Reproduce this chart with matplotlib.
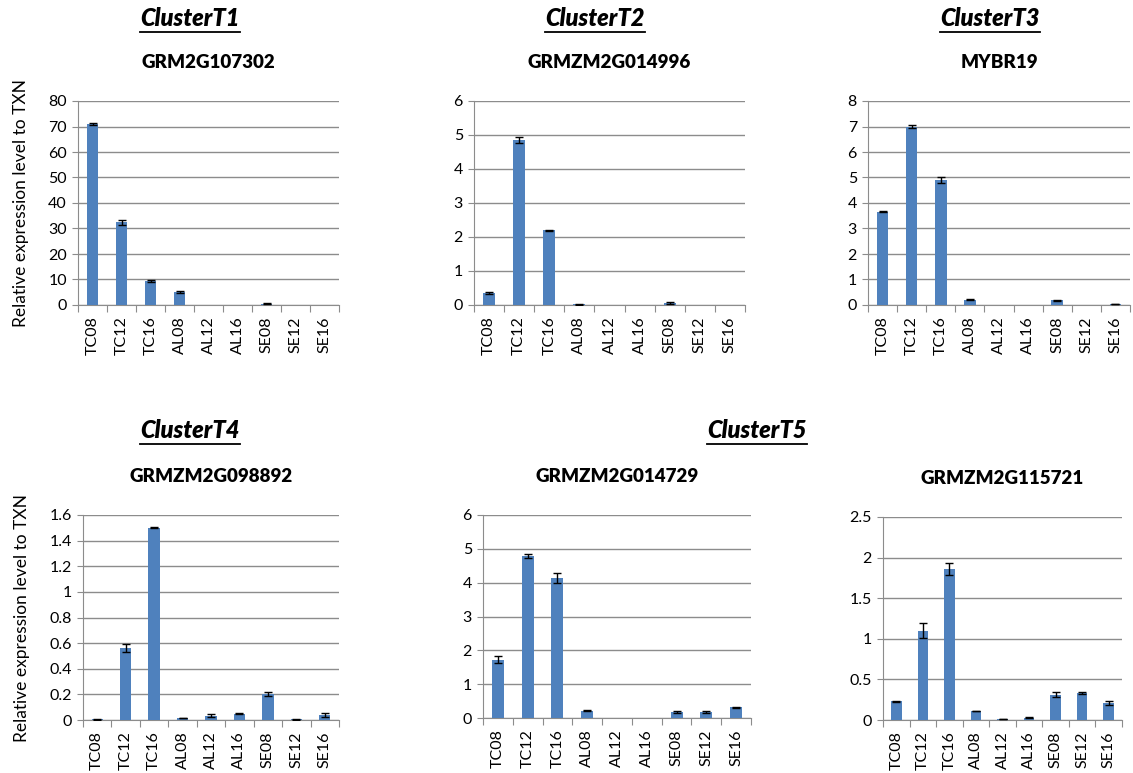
import numpy as np
import matplotlib.pyplot as plt
from matplotlib.lines import Line2D

plt.rcParams['font.family'] = ['Lato', 'DejaVu Sans']

samples = ["TC08", "TC12", "TC16", "AL08", "AL12", "AL16", "SE08", "SE12", "SE16"]

genes = ["GRM2G107302", "GRMZM2G014996", "MYBR19",
         "GRMZM2G098892", "GRMZM2G014729", "GRMZM2G115721"]

# expression values
grm2g107302 = [71.0, 32.5, 9.5, 5.2, 0, 0, 0.4, 0, 0]
grm2g107302_err = [0.3, 1.0, 0.4, 0.4, 0, 0, 0.2, 0, 0]
grmzm2g014996 = [0.35, 4.85, 2.2, 0.02, 0, 0, 0.06, 0, 0]
grmzm2g014996_err = [0.03, 0.08, 0.02, 0.01, 0, 0, 0.02, 0, 0]
mybr19 = [3.65, 7.0, 4.9, 0.2, 0, 0, 0.18, 0, 0.04]
mybr19_err = [0.02, 0.05, 0.1, 0.02, 0, 0, 0.03, 0, 0.01]
grmzm2g098892 = [0.005, 0.56, 1.5, 0.015, 0.035, 0.05, 0.2, 0.005, 0.04]
grmzm2g098892_err = [0.002, 0.03, 0.003, 0.003, 0.01, 0.005, 0.015, 0.002, 0.015]
grmzm2g014729 = [1.72, 4.78, 4.13, 0.22, 0, 0, 0.17, 0.17, 0.32]
grmzm2g014729_err = [0.1, 0.06, 0.15, 0.01, 0, 0, 0.03, 0.03, 0.01]
grmzm2g115721 = [0.23, 1.1, 1.86, 0.11, 0.01, 0.03, 0.31, 0.33, 0.21]
grmzm2g115721_err = [0.005, 0.09, 0.07, 0.005, 0.003, 0.005, 0.03, 0.01, 0.03]

values = [grm2g107302, grmzm2g014996, mybr19, grmzm2g098892, grmzm2g014729, grmzm2g115721]
errors = [grm2g107302_err, grmzm2g014996_err, mybr19_err,
          grmzm2g098892_err, grmzm2g014729_err, grmzm2g115721_err]
ymax = [80, 6, 8, 1.6, 6, 2.5]
ystep = [10, 1, 1, 0.2, 1, 0.5]

clusters = ["ClusterT1", "ClusterT2", "ClusterT3", "ClusterT4", "ClusterT5"]

W, H = 1133, 773
fig = plt.figure(figsize=(W / 100, H / 100), dpi=100)

# axes boxes in pixels: left, top, right, bottom
boxes = [(78, 101, 339, 305), (474, 101, 745, 305), (868, 101, 1130, 305),
         (83, 515, 339, 720), (483, 515, 751, 718), (883, 517, 1122, 720)]

bar_color = "#4F81BD"
grid_color = "#8C8C8C"

for i, (l, t, r, b) in enumerate(boxes):
    ax = fig.add_axes([l / W, 1 - b / H, (r - l) / W, (b - t) / H])
    x = np.arange(len(samples))
    v = np.array(values[i], dtype=float)
    e = np.array(errors[i], dtype=float)
    ax.bar(x, v, width=0.4, color=bar_color, zorder=3)
    has = v > 0
    ax.errorbar(x[has], v[has], yerr=e[has], fmt="none", ecolor="black",
                elinewidth=1, capsize=3, capthick=1, zorder=4)
    ax.set_xlim(-0.5, len(samples) - 0.5)
    ax.set_ylim(0, ymax[i])
    ticks = np.arange(0, ymax[i] + ystep[i] / 2, ystep[i])
    ax.set_yticks(ticks)
    ax.set_yticklabels([f"{t_:g}" for t_ in ticks], fontsize=11.5)
    ax.yaxis.grid(True, color=grid_color, linewidth=1, zorder=0)
    ax.set_xticks(np.arange(-0.5, len(samples), 1))
    ax.set_xticklabels([])
    ax.set_xticks(x, minor=True)
    ax.set_xticklabels(samples, minor=True, rotation=90, fontsize=11.5)
    ax.tick_params(axis="x", which="minor", length=0, pad=8)
    ax.tick_params(axis="x", which="major", length=5, color=grid_color, direction="out")
    ax.tick_params(axis="y", length=4, color=grid_color, pad=4)
    for s in ["top", "right"]:
        ax.spines[s].set_visible(False)
    for s in ["left", "bottom"]:
        ax.spines[s].set_color(grid_color)
    ax.set_title(genes[i], fontsize=13.5, fontweight="heavy", pad=24)
    if i in (0, 3):
        ax.set_ylabel("Relative expression level to TXN", fontsize=12.5, labelpad=14)

# cluster headings, underlined
cluster_pos = [(190, 18), (595, 18), (990, 18), (190, 430), (757, 430)]
fig.canvas.draw()
renderer = fig.canvas.get_renderer()
for name, (cx, cy) in zip(clusters, cluster_pos):
    txt = fig.text(cx / W, 1 - cy / H, name, fontsize=17, fontweight="heavy",
                   fontstyle="italic", ha="center", va="center")
    bb = txt.get_window_extent(renderer=renderer)
    yline = (bb.y0 - 2) / H
    fig.add_artist(Line2D([bb.x0 / W, bb.x1 / W], [yline, yline],
                          color="black", linewidth=1.3))

fig.savefig("out.png", dpi=100)
